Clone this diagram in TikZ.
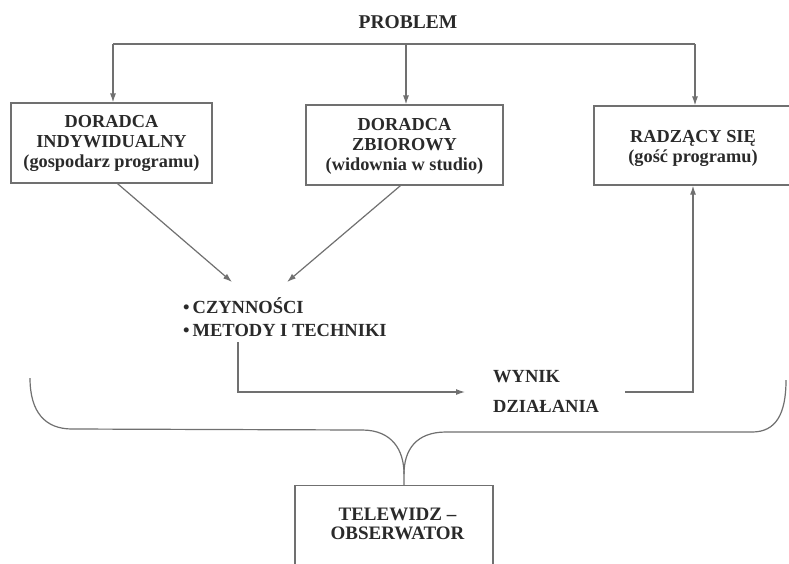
\documentclass[tikz,border=0pt]{standalone}
\usepackage{fontspec}
\setmainfont{Liberation Serif}
\usetikzlibrary{arrows.meta}
\definecolor{linegray}{HTML}{707070}
\definecolor{textgray}{HTML}{2a2a2a}
\begin{document}
\begin{tikzpicture}[x=1pt,y=-1pt,
  line/.style={draw=linegray, line width=1.2pt},
  arr/.style={line, -{Latex[length=9pt,width=6pt]}},
  txt/.style={text=textgray, font=\bfseries\fontsize{18.3}{20}\selectfont, align=center, inner sep=0pt},
  box/.style={txt, draw=linegray, line width=1.2pt}
]
\useasboundingbox (0,0) rectangle (789,563);
\fill[white] (0,0) rectangle (789,563);

\node[txt, font=\bfseries\fontsize{19.5}{22}\selectfont, anchor=base] (prob) at (408,28) {PROBLEM};

\node[box, minimum width=201pt, minimum height=80pt] (b1) at (111.5,143) {\rule{0pt}{14pt}DORADCA\\INDYWIDUALNY\\(gospodarz programu)};
\node[box, minimum width=197pt, minimum height=80pt] (b2) at (404.5,145) {\rule{0pt}{14pt}DORADCA\\ZBIOROWY\\(widownia w studio)};
\node[box, minimum width=198pt, minimum height=79pt] (b3) at (693,145.5) {\rule{0pt}{18pt}RADZĄCY SIĘ\\(gość programu)};

\coordinate (pl) at (113,44);
\coordinate (pm) at (406,44);
\coordinate (pr) at (695,44);
\draw[line] (pl) -- (pr);
\draw[arr] (pl) -- (pl |- b1.north);
\draw[arr] (pm) -- (pm |- b2.north);
\draw[arr] (pr) -- (pr |- b3.north);

\node[txt, align=left, anchor=base west, font=\bfseries\fontsize{18.5}{23}\selectfont] (list) at (183,336) {•\hspace{3pt}CZYNNOŚCI\\•\hspace{3pt}METODY I TECHNIKI};

\coordinate (t1) at (232,282);
\coordinate (t2) at (287,282);
\draw[arr] ([xshift=6pt]b1.south) -- (t1);
\draw[arr] ([xshift=-4pt]b2.south) -- (t2);

\node[txt, align=left, anchor=west, font=\bfseries\fontsize{18.5}{30}\selectfont] (wyn) at (493,391) {WYNIK\\DZIAŁANIA};

\coordinate (ls) at (238,342);
\coordinate (wa) at (465,392);
\coordinate (wb) at (625,392);
\draw[arr] (ls) |- (wa);
\draw[arr] (wb) -| (b3.south);

\node[draw=linegray, line width=1.2pt, minimum width=198pt, minimum height=100pt, anchor=north] (tv) at (394,485) {};
\node[txt, font=\bfseries\fontsize{19}{19.5}\selectfont] (tvt) at (397.5,524) {TELEWIDZ –\\OBSERWATOR};

\coordinate (cusp) at (404,474);
\draw[line] (30,378) .. controls (30,412) and (45,429) .. (72,429) -- (362,430)
  .. controls (392,430) and (404,450) .. (cusp) -- (cusp |- tv.north);
\draw[line] (cusp) .. controls (404,450) and (416,432) .. (446,432) -- (752,432)
  .. controls (776,432) and (786,414) .. (786,380);
\end{tikzpicture}
\end{document}
